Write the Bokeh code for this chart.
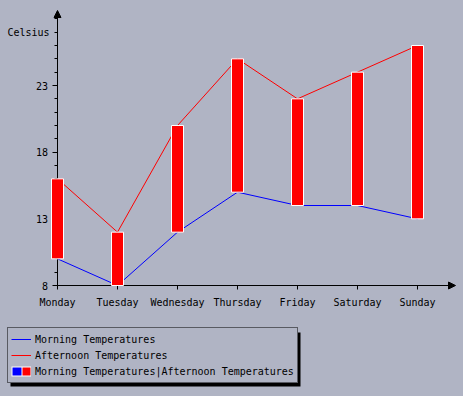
from bokeh.plotting import figure
from bokeh.models import (Range1d, FixedTicker, Arrow, NormalHead, Legend, LegendItem,
                          Label, BoxAnnotation, ColumnDataSource, GlobalInlineStyleSheet)
from bokeh.core.properties import value
from bokeh.embed import file_html
from bokeh.resources import INLINE

# ---- data ----
days = ["Monday", "Tuesday", "Wednesday", "Thursday", "Friday", "Saturday", "Sunday"]
morning = [10, 8, 12, 15, 14, 14, 13]
afternoon = [16, 12, 20, 25, 22, 24, 26]
y_major_ticks = [8, 13, 18, 23]
y_minor_ticks = list(range(8, 29))
y_tick_labels = [str(t) for t in y_major_ticks]

BG = "#b0b4c4"
FONT = "DejaVu Sans Mono"
FS = "10px"

x_pos = list(range(len(days)))
src = ColumnDataSource(dict(x=x_pos, morning=morning, afternoon=afternoon))

W, H = 463, 396
AX_X, AX_Y = 57, 285          # canvas position of the origin (Monday, 8)
PX_X = 60.0
PX_Y = 200.0 / 15.0
F_L, F_R, F_T, F_B = 6, 460, 4, 390

x_start = (F_L - AX_X) / PX_X
x_end = (F_R - AX_X) / PX_X
y_start = 8 - (F_B - AX_Y) / PX_Y
y_end = 8 + (AX_Y - F_T) / PX_Y
arrow_x_tip = (455 - AX_X) / PX_X
arrow_y_tip = 8 + (AX_Y - 10) / PX_Y

p = figure(width=W, height=H, output_backend="svg", toolbar_location=None,
           x_range=Range1d(x_start, x_end), y_range=Range1d(y_start, y_end),
           min_border_left=F_L, min_border_right=W - F_R, min_border_top=F_T,
           min_border_bottom=H - F_B)
p.background_fill_color = BG
p.border_fill_color = BG
p.outline_line_color = None
p.grid.visible = False
p.stylesheets = [GlobalInlineStyleSheet(css="html, body { background-color: #b0b4c4; margin: 0; }")]

r_m = p.line("x", "morning", source=src, line_color="#0000ff", line_width=1)
r_a = p.line("x", "afternoon", source=src, line_color="#ff0000", line_width=1)
bars = p.vbar(x="x", bottom="morning", top="afternoon", width=0.2, source=src,
              fill_color="#ff0000", line_color="white", line_width=1, level="overlay")

# legend swatch renderers (hidden in the plot, shown only in the legend)
sw_white = p.line("x", "morning", source=src, line_color="white", line_width=10, visible=False)
sw_blue = p.line("x", "morning", source=src, line_color="#0000ff", line_width=8,
                 line_dash="0 1 9 100", visible=False)
sw_red = p.line("x", "afternoon", source=src, line_color="#ff0000", line_width=8,
                line_dash="0 11 8 100", visible=False)

# axes (ticks only; labels drawn as text glyphs so the axis panels stay thin)
p.xaxis.ticker = FixedTicker(ticks=x_pos)
p.yaxis.ticker = FixedTicker(ticks=y_major_ticks, minor_ticks=y_minor_ticks)
p.xaxis.fixed_location = 8
p.yaxis.fixed_location = 0
for ax in (p.xaxis, p.yaxis):
    ax.axis_line_color = None
    ax.major_tick_in = 0
    ax.major_tick_out = 5
    ax.major_tick_line_color = "black"
    ax.major_label_text_font_size = "0px"
    ax.major_label_standoff = 0
p.xaxis.major_label_overrides = {i: "" for i in x_pos}
p.yaxis.major_label_overrides = {t: "" for t in y_major_ticks}
p.xaxis.minor_tick_line_color = None
p.xaxis.major_tick_out = 4
p.yaxis.minor_tick_in = 0
p.yaxis.minor_tick_out = 3
p.yaxis.minor_tick_line_color = "black"

p.text(x=x_pos, y=[8] * len(days), text=days, y_offset=17,
       text_align="center", text_baseline="alphabetic",
       text_font=value(FONT), text_font_size=value(FS), text_color="black")
p.text(x=[0] * len(y_major_ticks), y=y_major_ticks, text=y_tick_labels, x_offset=-9.5,
       text_align="right", text_baseline="middle",
       text_font=value(FONT), text_font_size=value(FS), text_color="black")

p.add_layout(Arrow(end=NormalHead(size=7, fill_color="black", line_color="black"),
                   x_start=0, y_start=8, x_end=0, y_end=arrow_y_tip,
                   line_color="black", line_width=1))
p.add_layout(Arrow(end=NormalHead(size=7, fill_color="black", line_color="black"),
                   x_start=0, y_start=8, x_end=arrow_x_tip, y_end=8,
                   line_color="black", line_width=1))

p.add_layout(Label(x=7, y=32, x_units="canvas", y_units="canvas", text="Celsius",
                   text_font=FONT, text_font_size=FS, text_color="black",
                   text_baseline="alphabetic"))

# legend shadow
p.add_layout(BoxAnnotation(left=10, right=300, top=332, bottom=386,
                           left_units="canvas", right_units="canvas",
                           top_units="canvas", bottom_units="canvas",
                           fill_color="black", fill_alpha=1, line_color=None,
                           level="underlay"))

legend = Legend(items=[LegendItem(label="Morning Temperatures", renderers=[r_m]),
                       LegendItem(label="Afternoon Temperatures", renderers=[r_a]),
                       LegendItem(label="Morning Temperatures|Afternoon Temperatures",
                                  renderers=[sw_white, sw_blue, sw_red])],
                location=(7 - F_L, F_B - 383), padding=3, spacing=0, margin=0,
                glyph_width=20, glyph_height=16, label_height=16, label_standoff=4,
                label_text_font=FONT, label_text_font_size=FS, label_text_color="black",
                border_line_color="black", border_line_width=1,
                background_fill_color=BG, background_fill_alpha=1,
                inactive_fill_alpha=0)
p.add_layout(legend, "center")

open("out.html", "w").write(file_html(p, INLINE))
